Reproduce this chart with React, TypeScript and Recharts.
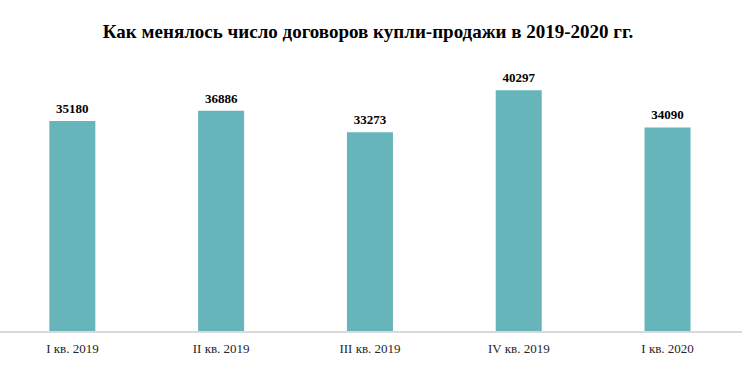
import React from "react";
import { BarChart, Bar, XAxis, YAxis, LabelList } from "recharts";

const quarters = ["I кв. 2019", "II кв. 2019", "III кв. 2019", "IV кв. 2019", "I кв. 2020"];
const contracts = [35180, 36886, 33273, 40297, 34090];

const data = quarters.map((q, i) => ({ quarter: q, value: contracts[i] }));

const FONT = "'Liberation Serif', 'Times New Roman', serif";

function QuarterTick({ x, y, payload }: any) {
  return (
    <text x={x} y={y + 21} textAnchor="middle" fontFamily={FONT} fontSize={13} fill="#262626">
      {payload.value}
    </text>
  );
}

export default function App() {
  return (
    <div style={{ position: "absolute", left: 0, top: 0, width: 751, height: 367, background: "#fff" }}>
      <div
        style={{
          position: "absolute",
          left: 0,
          top: 21,
          width: 736,
          textAlign: "center",
          fontFamily: FONT,
          fontWeight: "bold",
          fontSize: 19,
          color: "#000",
        }}
      >
        Как менялось число договоров купли-продажи в 2019-2020 гг.
      </div>
      <div style={{ position: "absolute", left: -2, top: 0 }}>
        <BarChart width={744} height={367} data={data} margin={{ top: 62, right: 0, bottom: 0, left: 0 }} barCategoryGap="34.5%">
          <XAxis
            dataKey="quarter"
            axisLine={{ stroke: "#D9D9D9", strokeWidth: 2 }}
            tickLine={false}
            tickSize={0}
            tickMargin={0}
            height={35}
            tick={<QuarterTick />}
            interval={0}
          />
          <YAxis hide domain={[0, 45000]} />
          <Bar dataKey="value" fill="#66B5BB" isAnimationActive={false}>
            <LabelList
              dataKey="value"
              position="top"
              offset={8}
              style={{ fontFamily: FONT, fontWeight: "bold", fontSize: 13, fill: "#000" }}
            />
          </Bar>
        </BarChart>
      </div>
    </div>
  );
}
